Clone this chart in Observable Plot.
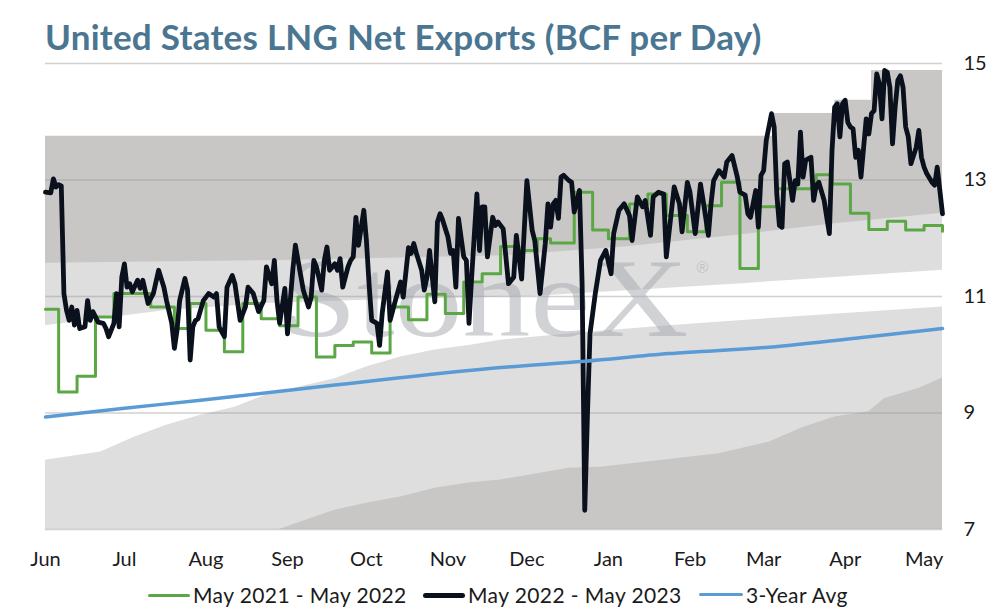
<!DOCTYPE html>
<html>
<head>
<meta charset="utf-8">
<script src="https://cdn.jsdelivr.net/npm/d3@7"></script>
<script src="https://cdn.jsdelivr.net/npm/@observablehq/plot@0.6"></script>
<style>
  html, body { margin: 0; padding: 0; background: #fff; }
  #wrap { position: relative; width: 994px; height: 614px; overflow: hidden; font-family: Lato, "Open Sans", sans-serif; }
  #title { position: absolute; left: 45px; top: 19px; font-size: 35px; line-height: 35px; font-weight: 700; letter-spacing: 0.25px; color: #4b7691; white-space: nowrap; }
  #chart { position: absolute; left: 0; top: 0; }
  .lg { position: absolute; top: 584px; font-size: 21px; line-height: 22px; letter-spacing: 0.4px; color: #1a1a1a; white-space: nowrap; }
  .sw { position: absolute; height: 0; border-top-style: solid; border-radius: 3px; }
</style>
</head>
<body>
<div id="wrap">
  <div id="chart"></div>
  <div id="title">United States LNG Net Exports (BCF per Day)</div>
  <div id="legend"></div>
</div>
<script>
// ---------- data (day = days since 1 Jun 2022) ----------
const startDate = "2022-06-01";
const endDate = "2023-05-08";
const monthTicks = ["2022-06-01","2022-07-01","2022-08-01","2022-09-01","2022-10-01","2022-11-01","2022-12-01","2023-01-01","2023-02-01","2023-03-01","2023-04-01","2023-05-01"];
const yTicks = [7, 9, 11, 13, 15];

// May 2022 - May 2023 (daily)
const blackDay = [0,2,3,4,5,6,7,8,9,10,11,12,13,15,16,17,18,20,22,23,24,26,27,28,29,30,31,32,33,35,36,37,39,41,43,45,46,48,49,50,51,53,54,55,56,57,58,60,61,62,64,65,66,68,69,71,72,74,76,77,79,81,83,84,86,87,88,89,91,92,94,95,96,98,100,101,102,103,105,106,107,108,110,111,112,113,115,116,117,118,119,121,122,123,124,126,127,128,130,131,133,135,136,138,139,140,141,143,144,145,146,148,149,150,151,153,154,155,156,157,159,160,161,162,164,165,166,167,168,170,171,172,174,176,178,179,181,183,185,186,188,190,191,192,193,194,195,196,197,199,200,201,202,203,204,205,206,207,209,211,213,215,216,218,220,222,223,225,227,228,230,231,233,235,236,238,239,241,242,244,245,247,249,250,252,253,254,256,257,258,259,261,263,264,266,267,268,270,271,272,273,274,276,277,278,279,280,281,282,284,285,286,287,288,289,291,292,293,294,296,297,298,299,300,301,302,303,304,305,306,307,308,309,310,312,313,314,315,316,317,318,319,320,321,322,323,324,325,326,327,328,329,331,332,333,334,335,337,338,339,341];
const blackValue = [12.79,12.78,13.02,12.88,12.92,12.90,11.05,10.76,10.59,10.82,10.51,10.76,10.45,10.48,10.93,10.59,10.74,10.56,10.54,10.45,10.31,10.54,11.05,10.48,11.33,11.56,11.16,11.22,11.08,11.28,11.14,11.28,10.88,11.05,11.45,11.16,10.93,10.54,10.11,10.42,10.93,11.31,11.11,9.91,10.48,10.59,10.62,10.93,10.99,11.05,10.99,11.05,10.48,10.31,11.16,11.36,11.22,10.59,10.82,11.16,11.05,10.74,10.93,11.51,11.22,11.62,10.93,10.54,11.14,10.36,11.45,11.88,11.62,11.11,10.82,10.99,11.62,11.51,11.11,11.62,11.85,11.45,11.56,11.45,11.65,11.16,11.51,11.62,11.68,12.36,11.88,12.48,11.96,11.22,10.59,10.54,10.16,10.71,11.42,10.59,10.93,11.25,10.99,11.84,11.74,11.91,11.74,11.45,11.11,11.33,11.79,10.91,12.28,12.42,12.31,12.02,11.74,11.79,11.16,12.34,11.68,11.62,10.54,11.33,12.76,11.79,12.54,12.54,11.68,12.36,12.22,12.28,12.16,11.22,11.33,12.05,11.30,12.99,12.14,11.96,11.05,11.91,12.59,12.19,12.59,12.65,12.34,13.05,13.08,12.99,12.96,12.45,12.65,12.82,11.22,7.33,8.93,10.36,11.05,11.62,11.79,11.39,12.08,12.48,12.59,12.39,11.96,12.71,12.54,12.65,12.05,12.71,12.79,12.76,11.68,12.48,12.88,12.59,12.11,12.96,12.79,12.08,12.93,12.65,12.05,12.59,12.99,13.16,13.11,13.05,13.31,13.42,13.05,12.79,12.74,12.42,12.36,12.82,12.19,13.08,13.16,13.68,14.14,13.91,12.76,12.22,12.19,13.28,13.31,12.65,12.99,12.93,13.82,13.05,13.34,13.39,12.65,12.91,12.96,12.65,12.36,12.08,13.51,14.25,14.31,13.74,14.31,14.37,13.99,13.91,13.88,13.39,13.51,13.05,14.05,13.79,14.14,14.19,14.82,14.65,14.05,14.88,14.85,14.59,13.62,14.25,14.71,14.79,14.59,13.91,13.74,13.28,13.56,13.85,13.39,13.22,13.11,12.96,12.91,13.22,12.42];

// May 2021 - May 2022 (weekly steps)
const greenDay = [0,5,12,19,26,40,49,55,61,68,75,82,89,96,103,110,117,124,131,138,145,152,159,166,173,180,187,192,201,208,214,222,229,236,244,251,257,264,271,278,293,299,306,313,320,327,334,341];
const greenValue = [10.78,9.36,9.63,10.65,11.05,10.82,10.45,10.88,10.42,10.05,10.88,10.62,10.50,10.99,9.96,10.16,10.22,10.03,10.82,10.60,11.04,10.71,11.25,11.39,11.86,11.79,11.99,11.92,12.79,12.14,11.99,12.59,12.76,12.39,12.11,12.56,12.96,11.48,12.54,12.85,13.09,12.93,12.43,12.15,12.29,12.14,12.22,12.12];

// 3-Year Avg
const avgDay = [0,30,59,110,173,205,237,275,313,341];
const avgValue = [8.93,9.08,9.22,9.48,9.78,9.89,10.02,10.13,10.31,10.45];

// range bands (boundaries, top to bottom)
const maxDay = [0,277,300,314,341];
const maxValue = [13.75,14.14,14.37,14.88,14.88];
const p80Day = [0,89,175,220,263,300,341];
const p80Value = [11.57,11.62,11.70,11.85,12.05,12.25,12.43];
const p60Day = [0,46,84,130,185,265,341];
const p60Value = [10.50,10.76,10.88,10.95,11.00,11.22,11.45];
const p40Day = [0,21,34,46,59,72,84,97,110,122,135,148,161,173,205,237,265,341];
const p40Value = [8.19,8.33,8.59,8.79,8.96,9.10,9.31,9.45,9.59,9.79,9.96,10.08,10.16,10.25,10.38,10.50,10.59,10.82];
const p20Day = [89,97,110,122,135,148,161,173,199,211,237,256,275,288,300,313,319,332,341];
const p20Value = [7.00,7.13,7.33,7.45,7.56,7.71,7.80,7.85,8.05,8.07,8.20,8.30,8.50,8.75,8.93,9.02,9.25,9.42,9.60];

const legendItems = [
  {label: "May 2021 - May 2022", color: "#5ba745", w: 3},
  {label: "May 2022 - May 2023", color: "#0a101c", w: 5},
  {label: "3-Year Avg", color: "#5b9bd5", w: 3.5}
];

// ---------- build ----------
const t0 = new Date(startDate).getTime();
const toDate = d => new Date(t0 + d * 864e5);
const table = (days, vals) => days.map((d, i) => ({date: toDate(d), value: vals[i]}));

const black = table(blackDay, blackValue);
const green = table(greenDay, greenValue);
const avg = table(avgDay, avgValue);
const bandMax = table(maxDay, maxValue);
const b80 = table(p80Day, p80Value);
const b60 = table(p60Day, p60Value);
const b40 = table(p40Day, p40Value);
const b20 = table(p20Day, p20Value);

const DARK = "#c8c7c6", LIGHT = "#dedede";
const base = 7;

const chart = Plot.plot({
  width: 994,
  height: 575,
  marginLeft: 45,
  marginRight: 52,
  marginTop: 63,
  marginBottom: 46,
  style: {fontFamily: "Lato, 'Open Sans', sans-serif", fontSize: "20px", color: "#1a1a1a", background: "transparent"},
  x: {type: "utc", domain: [new Date(startDate), new Date(endDate)]},
  y: {domain: [7, 15]},
  marks: [
    Plot.areaY(bandMax, {x: "date", y1: base, y2: "value", fill: DARK, curve: "step-after"}),
    Plot.areaY(b80, {x: "date", y1: base, y2: "value", fill: LIGHT}),
    Plot.areaY(b60, {x: "date", y1: base, y2: "value", fill: "#ffffff"}),
    Plot.areaY(b40, {x: "date", y1: base, y2: "value", fill: LIGHT}),
    Plot.areaY(b20, {x: "date", y1: base, y2: "value", fill: DARK}),
    Plot.ruleY(yTicks, {stroke: "#9a9a9a", strokeOpacity: 0.45, strokeWidth: 1.5}),
    Plot.text(["StoneX"], {frameAnchor: "top-left", dx: 236, dy: 192, lineAnchor: "top", textAnchor: "start",
      fontFamily: "'Liberation Serif', serif", fontSize: 113, fill: "#a4a6ae", fillOpacity: 0.5}),
    Plot.text(["®"], {frameAnchor: "top-left", dx: 657, dy: 204, lineAnchor: "middle", textAnchor: "middle",
      fontFamily: "'Liberation Sans', sans-serif", fontSize: 16, fill: "#a4a6ae", fillOpacity: 0.5}),
    Plot.line(green, {x: "date", y: "value", stroke: "#5ba745", strokeWidth: 3, curve: "step-after"}),
    Plot.line(black, {x: "date", y: "value", stroke: "#0a101c", strokeWidth: 4.8, strokeLinejoin: "round", strokeLinecap: "round"}),
    Plot.line(avg, {x: "date", y: "value", stroke: "#5b9bd5", strokeWidth: 3.5, curve: "monotone-x"}),
    Plot.axisX({ticks: monthTicks.map(s => new Date(s)), tickFormat: d3.utcFormat("%b"), tickSize: 0, tickPadding: 22, label: null}),
    Plot.axisY({anchor: "right", ticks: yTicks, tickSize: 0, tickPadding: 21, label: null})
  ]
});
document.getElementById("chart").appendChild(chart);

// stretch watermark like the reference logo
d3.select(chart).selectAll("text").filter(function() { return this.textContent === "StoneX"; })
  .attr("textLength", 407).attr("lengthAdjust", "spacingAndGlyphs");

// legend
const lg = document.getElementById("legend");
const pos = [{sw: 148, tx: 193}, {sw: 423, tx: 468}, {sw: 699, tx: 746}];
legendItems.forEach((it, i) => {
  const s = document.createElement("div");
  s.className = "sw";
  s.style.left = pos[i].sw + "px";
  s.style.width = (pos[i].tx - pos[i].sw - 3) + "px";
  s.style.top = (595 - it.w / 2) + "px";
  s.style.borderTopWidth = it.w + "px";
  s.style.borderTopColor = it.color;
  lg.appendChild(s);
  const t = document.createElement("div");
  t.className = "lg";
  t.style.left = pos[i].tx + "px";
  t.textContent = it.label;
  lg.appendChild(t);
});
</script>
</body>
</html>
